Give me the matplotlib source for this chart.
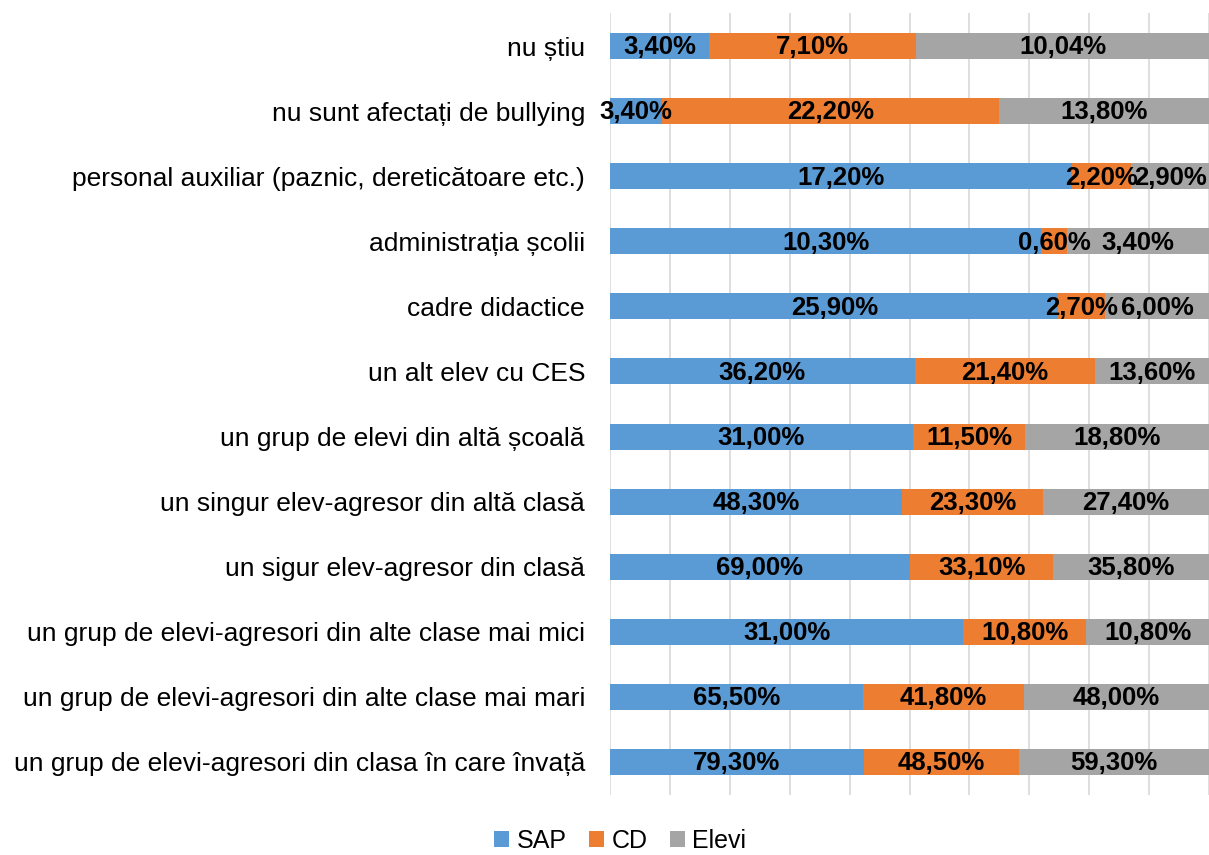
import matplotlib.pyplot as plt
import numpy as np

plt.rcParams['font.family'] = ['Liberation Sans', 'DejaVu Sans']

categories = [
    'un grup de elevi-agresori din clasa în care învață',
    'un grup de elevi-agresori din alte clase mai mari',
    'un grup de elevi-agresori din alte clase mai mici',
    'un sigur elev-agresor din clasă',
    'un singur elev-agresor din altă clasă',
    'un grup de elevi din altă școală',
    'un alt elev cu CES',
    'cadre didactice',
    'administrația școlii',
    'personal auxiliar (paznic, deretică­toare etc.)'.replace('\u00ad', ''),
    'nu sunt afectați de bullying',
    'nu știu',
]
sap = [79.30, 65.50, 31.00, 69.00, 48.30, 31.00, 36.20, 25.90, 10.30, 17.20, 3.40, 3.40]
cd = [48.50, 41.80, 10.80, 33.10, 23.30, 11.50, 21.40, 2.70, 0.60, 2.20, 22.20, 7.10]
elevi = [59.30, 48.00, 10.80, 35.80, 27.40, 18.80, 13.60, 6.00, 3.40, 2.90, 13.80, 10.04]

series = [('SAP', sap, '#5B9BD5'), ('CD', cd, '#ED7D31'), ('Elevi', elevi, '#A5A5A5')]

fig = plt.figure(figsize=(12.09, 8.55), dpi=100)
ax = fig.add_axes([610 / 1209, 1 - 794.5 / 855, 1 - 610 / 1209, (794.5 - 13.5) / 855])

totals = np.array(sap) + np.array(cd) + np.array(elevi)
y = np.arange(len(categories))
left = np.zeros(len(categories))
for name, vals, color in series:
    frac = np.array(vals) / totals
    ax.barh(y, frac, left=left, height=0.4, color=color, label=name, zorder=2)
    for yi, (l, f, v) in enumerate(zip(left, frac, vals)):
        txt = f'{v:.2f}%'.replace('.', ',')
        ax.text(l + f / 2, yi - 0.02, txt, ha='center', va='center',
                fontsize=18.5, fontweight='bold', color='black', zorder=3)
    left += frac

ax.set_xlim(0, 1)
ax.set_ylim(-0.5, len(categories) - 0.5)
ax.set_xticks(np.linspace(0, 1, 11))
ax.set_xticklabels([])
ax.tick_params(axis='x', length=0)
ax.grid(axis='x', color='#D9D9D9', linewidth=1.2, zorder=0)
ax.set_yticks(y)
ax.set_yticklabels(categories, fontsize=19)
ax.tick_params(axis='y', length=0, pad=18)
for s in ax.spines.values():
    s.set_visible(False)

fig.legend(loc='lower center', bbox_to_anchor=(0.513, -0.024), ncol=3, frameon=False,
           fontsize=18, handlelength=0.6, handleheight=0.6, handletextpad=0.3,
           columnspacing=0.9)

fig.savefig('out.png', dpi=100)
